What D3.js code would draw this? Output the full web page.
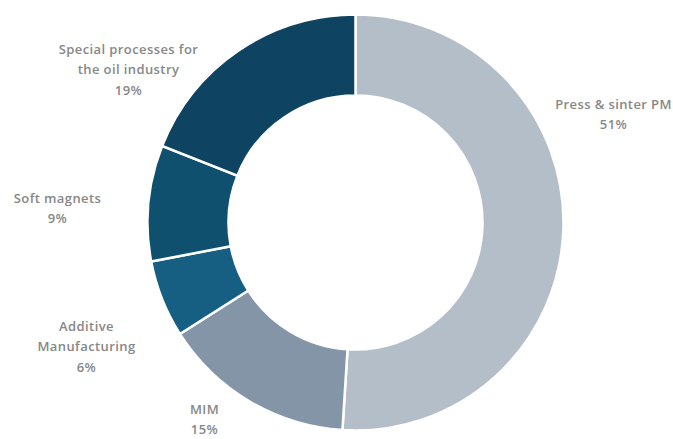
<!DOCTYPE html>
<html>
<head>
<meta charset="utf-8">
<script src="https://cdn.jsdelivr.net/npm/d3@7"></script>
<style>
  html, body { margin: 0; padding: 0; background: #ffffff; }
  svg { display: block; }
  text { font-family: "Open Sans", sans-serif; font-weight: 600; fill: #878787; letter-spacing: 0.4px; }
</style>
</head>
<body>
<svg id="chart" width="673" height="439"></svg>
<script>
// ---- data ----
const categories = ["Press & sinter PM", "MIM", "Additive Manufacturing", "Soft magnets", "Special processes for the oil industry"];
const shares = [51, 15, 6, 9, 19];
const labelLines = [
  ["Press & sinter PM"],
  ["MIM"],
  ["Additive", "Manufacturing"],
  ["Soft magnets"],
  ["Special processes for", "the oil industry"]
];
const sliceColors = ["#b4bec8", "#8495a8", "#175f82", "#10506f", "#0e4461"];

// ---- layout ----
const W = 673, H = 439;
const cx = 355.5, cy = 222.5;
const outerR = 208, innerR = 127;
// label block centres relative to the donut centre (Excel-style placement)
const labelOffsets = [[258, -108], [-151, 197], [-269, 124], [-298, -14], [-227, -153]];
const lineH = 20.5;

const svg = d3.select("#chart");
const g = svg.append("g").attr("transform", `translate(${cx},${cy})`);

const data = categories.map((c, i) => ({ name: c, value: shares[i], lines: labelLines[i], color: sliceColors[i], off: labelOffsets[i] }));

const pie = d3.pie().sort(null).value(d => d.value);
const arc = d3.arc().innerRadius(innerR).outerRadius(outerR);

g.selectAll("path.slice")
  .data(pie(data))
  .join("path")
  .attr("class", "slice")
  .attr("d", arc)
  .attr("fill", d => d.data.color)
  .attr("stroke", "#ffffff")
  .attr("stroke-width", 2.5)
  .attr("stroke-linejoin", "miter");

const fmt = v => `${v}%`;
const lbl = g.selectAll("text.lbl")
  .data(pie(data))
  .join("text")
  .attr("class", "lbl")
  .attr("text-anchor", "middle")
  .attr("font-size", 13);

lbl.each(function(d) {
  const lines = d.data.lines.concat([fmt(d.data.value)]);
  const n = lines.length;
  const x0 = d.data.off[0], y0 = d.data.off[1];
  const t = d3.select(this);
  lines.forEach((ln, k) => {
    t.append("tspan")
      .attr("x", x0)
      .attr("y", y0 + (k - (n - 1) / 2) * lineH)
      .attr("dy", "0.35em")
      .text(ln);
  });
});
</script>
</body>
</html>
